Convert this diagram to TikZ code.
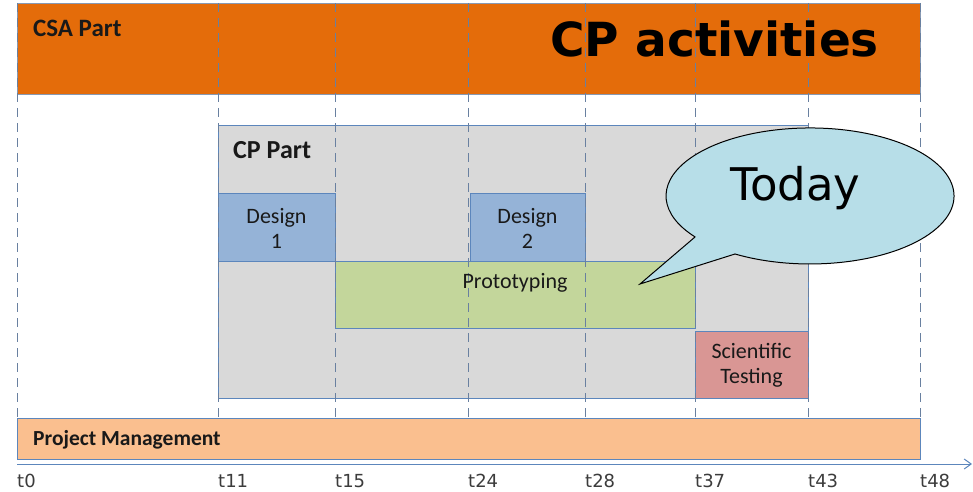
\documentclass[tikz,border=0pt]{standalone}
\usepackage{fontspec}
\setmainfont{Carlito}
\newfontfamily\verd{DejaVu Sans}
\usetikzlibrary{arrows.meta}
\definecolor{csaorange}{RGB}{228,108,10}
\definecolor{cpgray}{RGB}{217,217,217}
\definecolor{cpblue}{RGB}{92,134,188}
\definecolor{designblue}{RGB}{149,179,215}
\definecolor{protogreen}{RGB}{195,214,155}
\definecolor{scired}{RGB}{217,150,148}
\definecolor{pmorange}{RGB}{250,191,143}
\definecolor{callcyan}{RGB}{183,222,232}
\definecolor{dashcol}{RGB}{105,128,160}
\definecolor{txt}{RGB}{25,25,25}
\definecolor{axtxt}{RGB}{60,60,60}
\tikzset{
  bar/.style={draw=cpblue, line width=0.8pt},
  guide/.style={draw=dashcol, dash pattern=on 9pt off 6pt, line width=0.7pt},
  lbl/.style={text=txt, inner sep=0pt, font=\fontsize{22}{25}\selectfont, align=center},
  blbl/.style={text=txt, inner sep=0pt, anchor=base west},
  tick/.style={text=axtxt, inner sep=0pt, anchor=base west, font=\verd\fontsize{18}{20}\selectfont},
}
\begin{document}
\begin{tikzpicture}[x=1pt,y=1pt]
\useasboundingbox (0,0) rectangle (973,491);
% CSA bar
\draw[draw=dashcol!80, line width=0.7pt, fill=csaorange] (17,397) rectangle (920,488);
% CP part
\draw[bar, fill=cpgray] (218,93) rectangle (808,366);
\draw[bar, fill=designblue] (218,230) rectangle (335,298);
\draw[bar, fill=designblue] (470,230) rectangle (585,298);
\draw[bar, fill=protogreen] (335,163) rectangle (695,230);
\draw[bar, fill=scired] (695,93) rectangle (808,160);
% Project management
\draw[bar, fill=pmorange] (17,32) rectangle (920,73);
% guides
\foreach \gx in {17,218,335,468,585,695,808,920}
  \draw[guide] (\gx,488) -- (\gx,73);
% axis
\coordinate (axs) at (17,27);
\coordinate (axe) at (972,27);
\draw[cpblue, line width=1pt, -{Straight Barb[length=7pt,width=10pt]}] (axs) -- (axe);
% labels
\node[blbl, font=\bfseries\fontsize{25}{28}\selectfont] (csa) at (33,454) {CSA Part};
\node[blbl, font=\verd\bfseries\fontsize{47}{50}\selectfont, text=black] (cpact) at (550,434) {CP activities};
\node[blbl, font=\bfseries\fontsize{26}{28}\selectfont] (cppart) at (233,333) {CP Part};
\node[lbl] (d1) at (276.5,263) {Design\\1};
\node[lbl] (d2) at (527.5,263) {Design\\2};
\node[lbl, anchor=base] (proto) at (515,203) {Prototyping};
\node[lbl] (sci) at (751.5,126) {Scientific\\Testing};
\node[blbl, font=\bfseries\fontsize{21.5}{24}\selectfont] (pm) at (33,46) {Project Management};
% ticks
\foreach \gx/\tl in {17/t0,218/t11,335/t15,468/t24,585/t28,695/t37,808/t43,920/t48}
  \node[tick] (tk\tl) at (\gx,4) {\tl};
% callout
\draw[black, line width=1pt, fill=callcyan]
  (695,254) -- (640,207) -- (735,237)
  arc[start angle=238.6, end angle=577, x radius=144pt, y radius=68pt] -- cycle;
\node[inner sep=0pt, anchor=base west, font=\verd\fontsize{45}{48}\selectfont] (today) at (730,291) {Today};
\end{tikzpicture}
\end{document}
